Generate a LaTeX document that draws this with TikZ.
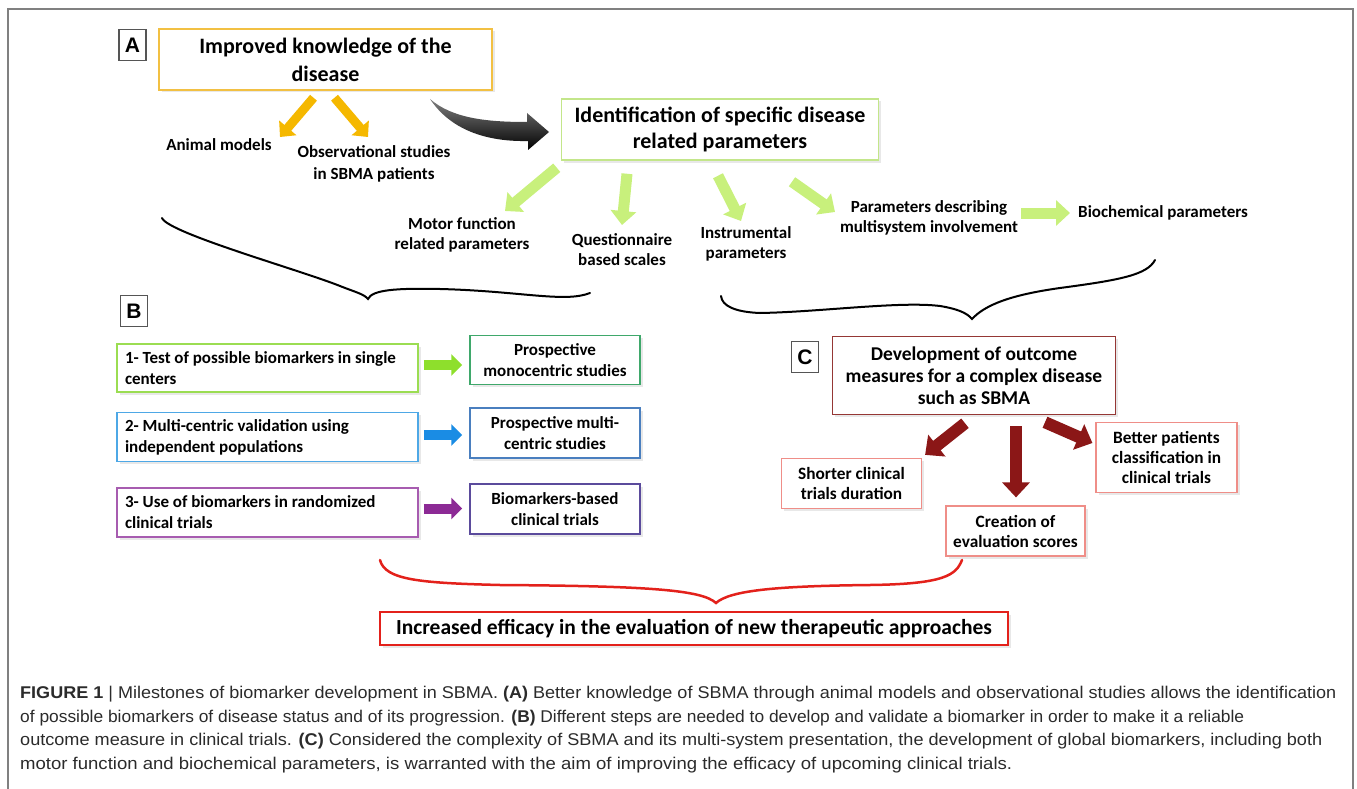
\documentclass[tikz,border=0pt]{standalone}
\usepackage{fontspec}
\usepackage{graphicx}
\setmainfont{Carlito}
\newfontfamily\capfont{Liberation Sans}
\usetikzlibrary{arrows.meta,shadows,calc}
\definecolor{framec}{HTML}{808080}
\definecolor{labgray}{HTML}{555555}
\definecolor{yelbox}{HTML}{F2C043}
\definecolor{yelarr}{HTML}{F5B800}
\definecolor{grnbox}{HTML}{C3E68A}
\definecolor{limearr}{HTML}{C8F07C}
\definecolor{bonebox}{HTML}{9BDD52}
\definecolor{boneArr}{HTML}{8EDF2C}
\definecolor{btwobox}{HTML}{4EA8E6}
\definecolor{btwoArr}{HTML}{1A8CE4}
\definecolor{bthreebox}{HTML}{A75CB0}
\definecolor{bthreeArr}{HTML}{8C2A95}
\definecolor{ronebox}{HTML}{3FA86B}
\definecolor{rtwobox}{HTML}{4A7FBF}
\definecolor{rthreebox}{HTML}{5B4B9C}
\definecolor{cbox}{HTML}{953735}
\definecolor{darkred}{HTML}{8B1717}
\definecolor{pinkbox}{HTML}{EF8E88}
\definecolor{redc}{HTML}{E3211B}
\definecolor{captext}{HTML}{2B2B2B}
\begin{document}
\begin{tikzpicture}[x=1pt,y=-1pt,
  box/.style={draw, line width=1.5pt, fill=white, align=flush center, inner sep=0pt,
    drop shadow={opacity=0.18, shadow xshift=2.5pt, shadow yshift=-2.5pt}},
  lbl/.style={draw=labgray, line width=1.2pt, fill=white, inner sep=0pt,
    minimum width=27pt, minimum height=31pt,
    font=\capfont\bfseries\fontsize{21}{24}\selectfont},
  txt/.style={align=flush center, inner sep=0pt, font=\bfseries\fontsize{17}{20}\selectfont},
  yarr/.style={draw=yelarr, line width=9pt, -{Triangle[width=22pt,length=12pt]}},
  garr/.style={draw=limearr, line width=11pt, -{Triangle[width=25pt,length=14pt]}},
  barr/.style={line width=10pt, -{Triangle[width=21pt,length=11pt]}},
  rarr/.style={draw=darkred, line width=12pt, -{Triangle[width=27pt,length=15pt]}},
  brace/.style={line width=2pt, line cap=round},
  capline/.style={anchor=base west, inner sep=0pt, text=captext,
    font=\capfont\fontsize{17}{20}\selectfont}
]
\useasboundingbox (0,0) rectangle (1357,789);
\fill[white] (0,0) rectangle (1357,789);
\draw[framec, line width=1.5pt] (8,800) -- (8,9) -- (1353,9) -- (1353,800);

% ---------- A ----------
\node[lbl] (labA) at (132.5,45) {A};
\node[box, draw=yelbox, minimum width=333pt, minimum height=61pt,
  font=\bfseries\fontsize{22}{28}\selectfont] (know) at (325.5,59.5)
  {Improved knowledge of the\\disease};
\node[txt] (animal) at (219,145) {Animal models};
\node[txt, font=\bfseries\fontsize{17}{22}\selectfont] (obs) at (374,164)
  {Observational studies\\in SBMA patients};
\node[box, draw=grnbox, minimum width=317pt, minimum height=61pt,
  font=\bfseries\fontsize{22}{26}\selectfont] (ident) at (720,129.5)
  {Identification of specific disease\\related parameters};

\draw[yarr] ($(know.south)+(-12,7)$) -- ($(animal.center)+(61,-8)$);
\draw[yarr] ($(know.south)+(9,7)$) -- ($(obs.center)+(-6,-27)$);

% black curved arrow
\shade[top color=black!50, bottom color=black]
  (430,99) .. controls (452,118) and (485,122) .. (527,122)
  -- (527,113) -- (549,132) -- (528,150) -- (528,141)
  .. controls (480,142) and (448,126) .. (430,99) -- cycle;

\node[txt] (motor) at (462,235) {Motor function\\related parameters};
\node[txt] (quest) at (622,250) {Questionnaire\\based scales};
\node[txt] (instr) at (746,244) {Instrumental\\parameters};
\node[txt] (multi) at (929,218) {Parameters describing\\multisystem involvement};
\node[txt, anchor=west] (bio) at (1078,213) {Biochemical parameters};

\draw[garr] ($(ident.south west)+(-4,7)$) -- ($(motor.center)+(43,-24)$);
\draw[garr] ($(ident.south)+(-93,13)$) -- ($(quest.center)+(0,-25)$);
\draw[garr] ($(ident.south)+(-2,15)$) -- ($(instr.center)+(-5,-23)$);
\draw[garr] ($(ident.south)+(72,21)$) -- ($(multi.center)+(-94,-6)$);
\draw[garr] ($(multi.east |- bio.west)+(3,0)$) -- ($(bio.west)+(-8,0)$);

% braces under A
\draw[brace] (162,218) .. controls (168,233) and (300,270) .. (340,286)
  .. controls (355,292) and (364,294) .. (368,299)
  .. controls (372,290) and (395,288) .. (440,289)
  .. controls (520,291) and (565,303) .. (590,293);
\draw[brace] (721,296) .. controls (722,306) and (735,312) .. (760,313)
  .. controls (820,312) and (900,301) .. (940,306)
  .. controls (958,309) and (967,313) .. (972,319)
  .. controls (985,305) and (1010,295) .. (1060,288)
  .. controls (1120,280) and (1147,275) .. (1155,260);

% ---------- B ----------
\node[lbl] (labB) at (134,311) {B};
\begin{scope}[every node/.append style={font=\bfseries\fontsize{17}{21}\selectfont}]
\node[box, draw=bonebox, minimum width=301pt, minimum height=48pt, text width=285pt, align=flush left]
  (s1) at (267.5,368) {1- Test of possible biomarkers in single\\centers};
\node[box, draw=btwobox, minimum width=301pt, minimum height=49pt, text width=285pt, align=flush left]
  (s2) at (267.5,437) {2- Multi-centric validation using\\independent populations};
\node[box, draw=bthreebox, minimum width=301pt, minimum height=49pt, text width=285pt, align=flush left]
  (s3) at (267.5,512.5) {3- Use of biomarkers in randomized\\clinical trials};
\node[box, draw=ronebox, minimum width=170pt, minimum height=49pt] (r1) at (555,360)
  {Prospective\\monocentric studies};
\node[box, draw=rtwobox, minimum width=170pt, minimum height=50pt] (r2) at (555,433)
  {Prospective multi-\\centric studies};
\node[box, draw=rthreebox, minimum width=170pt, minimum height=50pt] (r3) at (555,509)
  {Biomarkers-based\\clinical trials};
\end{scope}
\draw[barr, draw=boneArr] ($(s1.east)+(5,-3)$) -- ($(r1.west |- s1.east)+(-7,-3)$);
\draw[barr, draw=btwoArr] ($(s2.east)+(5,-2)$) -- ($(r2.west |- s2.east)+(-7,-2)$);
\draw[barr, draw=bthreeArr] ($(s3.east)+(5,-4)$) -- ($(r3.west |- s3.east)+(-7,-4)$);

% ---------- C ----------
\node[lbl] (labC) at (805,357) {C};
\node[box, draw=cbox, minimum width=283pt, minimum height=78pt,
  font=\bfseries\fontsize{19.5}{22}\selectfont] (dev) at (974,375.5)
  {Development of outcome\\measures for a complex disease\\such as SBMA};
\begin{scope}[every node/.append style={font=\bfseries\fontsize{17.3}{20}\selectfont}]
\node[box, draw=pinkbox, line width=1.2pt, minimum width=140pt, minimum height=50pt] (sh) at (851.5,483.5)
  {Shorter clinical\\trials duration};
\node[box, draw=pinkbox, line width=1.2pt, minimum width=139pt, minimum height=50pt] (cr) at (1015.5,531)
  {Creation of\\evaluation scores};
\node[box, draw=pinkbox, line width=1.2pt, minimum width=141pt, minimum height=70pt] (bt) at (1166.5,457.5)
  {Better patients\\classification in\\clinical trials};
\end{scope}
\draw[rarr] ($(dev.south)+(-9,8)$) -- ($(sh.north east)+(3,-3)$);
\draw[rarr] ($(dev.south)+(42,11)$) -- ($(cr.north)+(0.5,-8)$);
\draw[rarr] ($(dev.south)+(71,7)$) -- ($(bt.west)+(-3,-14.5)$);

% ---------- bottom ----------
\draw[brace, draw=redc, line width=2.5pt] (380,560) .. controls (385,580) and (420,583) .. (500,585)
  .. controls (650,586) and (702,590) .. (716,603)
  .. controls (730,590) and (780,586) .. (870,585)
  .. controls (945,584) and (956,575) .. (962,560);
\node[box, draw=redc, minimum width=628pt, minimum height=33pt,
  font=\bfseries\fontsize{21.5}{23}\selectfont] (final) at (694,628.5)
  {Increased efficacy in the evaluation of new therapeutic approaches};

% ---------- caption ----------
\node[capline] (cap1) at (20,698) {\resizebox{1316pt}{\height}{\textbf{FIGURE 1} | Milestones of biomarker development in SBMA. \textbf{(A)} Better knowledge of SBMA through animal models and observational studies allows the identification}};
\node[capline] (cap2) at (20,722) {\resizebox{1224pt}{\height}{of possible biomarkers of disease status and of its progression. \textbf{(B)} Different steps are needed to develop and validate a biomarker in order to make it a reliable}};
\node[capline] (cap3) at (20,745.5) {\resizebox{1302pt}{\height}{outcome measure in clinical trials. \textbf{(C)} Considered the complexity of SBMA and its multi-system presentation, the development of global biomarkers, including both}};
\node[capline] (cap4) at (20,769) {\resizebox{992pt}{\height}{motor function and biochemical parameters, is warranted with the aim of improving the efficacy of upcoming clinical trials.}};
\end{tikzpicture}
\end{document}
